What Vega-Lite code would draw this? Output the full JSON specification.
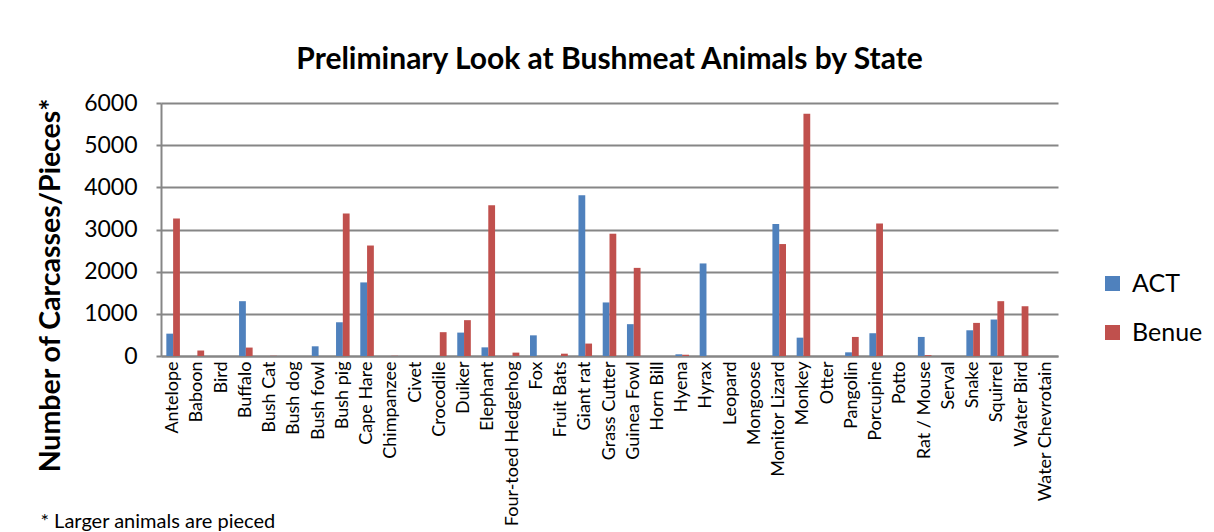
{
  "$schema": "https://vega.github.io/schema/vega-lite/v6.json",
  "width": 897,
  "height": 253,
  "autosize": {"type": "none"},
  "padding": {"left": 161, "top": 103, "right": 156, "bottom": 176},
  "background": "white",
  "title": {
    "text": "Preliminary Look at Bushmeat Animals by State",
    "font": "Lato",
    "fontSize": 30,
    "fontWeight": "bold",
    "color": "black",
    "anchor": "middle",
    "offset": 17
  },
  "config": {
    "view": {"stroke": null},
    "font": "Lato"
  },
  "data": {
    "values": [
      {"animal": "Antelope", "state": "ACT", "value": 530},
      {"animal": "Antelope", "state": "Benue", "value": 3260},
      {"animal": "Baboon", "state": "ACT", "value": 0},
      {"animal": "Baboon", "state": "Benue", "value": 130},
      {"animal": "Bird", "state": "ACT", "value": 0},
      {"animal": "Bird", "state": "Benue", "value": 0},
      {"animal": "Buffalo", "state": "ACT", "value": 1300},
      {"animal": "Buffalo", "state": "Benue", "value": 200},
      {"animal": "Bush Cat", "state": "ACT", "value": 0},
      {"animal": "Bush Cat", "state": "Benue", "value": 5},
      {"animal": "Bush dog", "state": "ACT", "value": 0},
      {"animal": "Bush dog", "state": "Benue", "value": 0},
      {"animal": "Bush fowl", "state": "ACT", "value": 230},
      {"animal": "Bush fowl", "state": "Benue", "value": 0},
      {"animal": "Bush pig", "state": "ACT", "value": 800},
      {"animal": "Bush pig", "state": "Benue", "value": 3380},
      {"animal": "Cape Hare", "state": "ACT", "value": 1745},
      {"animal": "Cape Hare", "state": "Benue", "value": 2620},
      {"animal": "Chimpanzee", "state": "ACT", "value": 0},
      {"animal": "Chimpanzee", "state": "Benue", "value": 5},
      {"animal": "Civet", "state": "ACT", "value": 0},
      {"animal": "Civet", "state": "Benue", "value": 0},
      {"animal": "Crocodile", "state": "ACT", "value": 0},
      {"animal": "Crocodile", "state": "Benue", "value": 565},
      {"animal": "Duiker", "state": "ACT", "value": 555},
      {"animal": "Duiker", "state": "Benue", "value": 850},
      {"animal": "Elephant", "state": "ACT", "value": 205},
      {"animal": "Elephant", "state": "Benue", "value": 3575},
      {"animal": "Four-toed Hedgehog", "state": "ACT", "value": 0},
      {"animal": "Four-toed Hedgehog", "state": "Benue", "value": 80},
      {"animal": "Fox", "state": "ACT", "value": 490},
      {"animal": "Fox", "state": "Benue", "value": 0},
      {"animal": "Fruit Bats", "state": "ACT", "value": 0},
      {"animal": "Fruit Bats", "state": "Benue", "value": 55},
      {"animal": "Giant rat", "state": "ACT", "value": 3810},
      {"animal": "Giant rat", "state": "Benue", "value": 295},
      {"animal": "Grass Cutter", "state": "ACT", "value": 1270},
      {"animal": "Grass Cutter", "state": "Benue", "value": 2900},
      {"animal": "Guinea Fowl", "state": "ACT", "value": 755},
      {"animal": "Guinea Fowl", "state": "Benue", "value": 2090},
      {"animal": "Horn Bill", "state": "ACT", "value": 0},
      {"animal": "Horn Bill", "state": "Benue", "value": 0},
      {"animal": "Hyena", "state": "ACT", "value": 40},
      {"animal": "Hyena", "state": "Benue", "value": 30},
      {"animal": "Hyrax", "state": "ACT", "value": 2195},
      {"animal": "Hyrax", "state": "Benue", "value": 0},
      {"animal": "Leopard", "state": "ACT", "value": 0},
      {"animal": "Leopard", "state": "Benue", "value": 0},
      {"animal": "Mongoose", "state": "ACT", "value": 0},
      {"animal": "Mongoose", "state": "Benue", "value": 0},
      {"animal": "Monitor Lizard", "state": "ACT", "value": 3130},
      {"animal": "Monitor Lizard", "state": "Benue", "value": 2655},
      {"animal": "Monkey", "state": "ACT", "value": 435},
      {"animal": "Monkey", "state": "Benue", "value": 5745},
      {"animal": "Otter", "state": "ACT", "value": 0},
      {"animal": "Otter", "state": "Benue", "value": 0},
      {"animal": "Pangolin", "state": "ACT", "value": 87},
      {"animal": "Pangolin", "state": "Benue", "value": 452},
      {"animal": "Porcupine", "state": "ACT", "value": 540},
      {"animal": "Porcupine", "state": "Benue", "value": 3145},
      {"animal": "Potto", "state": "ACT", "value": 0},
      {"animal": "Potto", "state": "Benue", "value": 0},
      {"animal": "Rat / Mouse", "state": "ACT", "value": 452},
      {"animal": "Rat / Mouse", "state": "Benue", "value": 20},
      {"animal": "Serval", "state": "ACT", "value": 0},
      {"animal": "Serval", "state": "Benue", "value": 0},
      {"animal": "Snake", "state": "ACT", "value": 610},
      {"animal": "Snake", "state": "Benue", "value": 785},
      {"animal": "Squirrel", "state": "ACT", "value": 865},
      {"animal": "Squirrel", "state": "Benue", "value": 1300},
      {"animal": "Water Bird", "state": "ACT", "value": 0},
      {"animal": "Water Bird", "state": "Benue", "value": 1180},
      {"animal": "Water Chevrotain", "state": "ACT", "value": 0},
      {"animal": "Water Chevrotain", "state": "Benue", "value": 0}
    ]
  },
  "mark": {"type": "bar"},
  "encoding": {
    "x": {
      "field": "animal",
      "type": "nominal",
      "sort": null,
      "scale": {"paddingInner": 0.44, "paddingOuter": 0.22},
      "axis": {
        "title": "* Larger animals are pieced",
        "titleFont": "Lato",
        "titleFontSize": 20,
        "titleFontWeight": "normal",
        "titleColor": "black",
        "titleAnchor": "start",
        "titleAlign": "left",
        "titleBaseline": "alphabetic",
        "titleX": -121,
        "titleY": 171,
        "labelAngle": -90,
        "labelAlign": "right",
        "labelBaseline": "middle",
        "labelFont": "Lato",
        "labelFontSize": 18,
        "labelColor": "black",
        "labelPadding": 5,
        "labelOverlap": false,
        "labelLimit": 300,
        "ticks": false,
        "domainColor": "#868686",
        "domainWidth": 2
      }
    },
    "xOffset": {"field": "state", "type": "nominal", "scale": {"paddingInner": 0, "paddingOuter": 0}},
    "y": {
      "field": "value",
      "type": "quantitative",
      "scale": {"domain": [0, 6000], "nice": false},
      "axis": {
        "values": [0, 1000, 2000, 3000, 4000, 5000, 6000],
        "format": "d",
        "title": "Number of Carcasses/Pieces*",
        "titleFont": "Lato",
        "titleFontSize": 28.5,
        "titleFontWeight": "bold",
        "titleColor": "black",
        "titleAngle": -90,
        "titleAlign": "center",
        "titleBaseline": "middle",
        "titleX": -111,
        "titleY": 182,
        "labelFont": "Lato",
        "labelFontSize": 23,
        "labelColor": "black",
        "labelPadding": 19,
        "tickColor": "#868686",
        "tickSize": 5,
        "tickWidth": 2,
        "domainColor": "#868686",
        "domainWidth": 2,
        "gridColor": "#868686",
        "gridWidth": 2
      }
    },
    "color": {
      "field": "state",
      "type": "nominal",
      "scale": {"domain": ["ACT", "Benue"], "range": ["#4F81BD", "#C0504D"]},
      "legend": {
        "title": null,
        "orient": "none",
        "legendX": 939,
        "legendY": 168,
        "symbolType": "square",
        "symbolSize": 225,
        "symbolStrokeWidth": 0,
        "labelFont": "Lato",
        "labelFontSize": 25,
        "labelColor": "black",
        "labelOffset": 7,
        "rowPadding": 23
      }
    }
  }
}
